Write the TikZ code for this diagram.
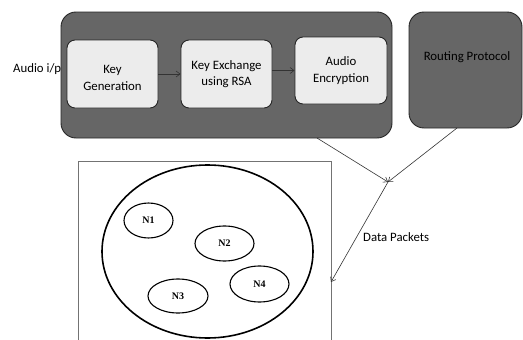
\documentclass[tikz,border=0pt]{standalone}
\usepackage{fontspec}
\setmainfont{Carlito}
\newfontfamily\nfont{Liberation Serif}
\usetikzlibrary{arrows.meta,shapes.geometric}
\definecolor{darkbox}{RGB}{102,102,102}
\definecolor{lightbox}{RGB}{236,236,236}
\tikzset{
  txt/.style={font=\fontsize{12.8}{16.5}\selectfont},
  outerbox/.style={draw=black!85, line width=0.9pt, fill=darkbox, rounded corners=15pt},
  innerbox/.style={draw=black!85, line width=0.9pt, fill=lightbox, rounded corners=8pt,
    minimum width=91pt, minimum height=68pt, align=center, inner sep=0pt, txt},
  nodeell/.style={draw=black, line width=1.1pt, ellipse, minimum width=60pt, minimum height=34pt,
    inner sep=0pt, font=\nfont\bfseries\fontsize{10}{12}\selectfont},
  flow/.style={draw=black!80, line width=0.6pt, -{Straight Barb[length=4pt,width=6pt]}}
}
\begin{document}
\begin{tikzpicture}[x=1pt,y=-1pt]
\useasboundingbox (0,0) rectangle (523,340);
% main processing box
\draw[outerbox] (61,12) rectangle (392,138);
\coordinate (mainbot) at (317,138);
% routing protocol box
\node[outerbox, minimum width=113pt, minimum height=116pt, inner sep=0pt] (route) at (465.5,70) {};
\node[txt] (routetxt) at (467,57) {Routing Protocol};
\coordinate (routebot) at (457,128);
% inner boxes
\node[innerbox] (keygen) at (112.5,74) {};
\node[txt, align=center, inner sep=0pt] (keygentxt) at (112.5,78) {Key\\Generation};
\node[innerbox] (keyex) at (226.5,74) {Key Exchange\\using RSA};
\node[innerbox, minimum width=92pt, minimum height=67pt] (enc) at (341,70.5) {Audio\\Encryption};
\draw[flow] (keygen.east) -- (keyex.west);
\draw[flow] (keyex.east |- enc.west) -- (enc.west);
% audio input label
\node[anchor=west, inner sep=0pt, txt] (audio) at (13,69) {Audio i/p};
% network rectangle
\draw[draw=black!55, line width=0.8pt] (331,345) -- (331,161) -- (78,161) -- (78,345);
\coordinate (netin) at (331,282);
% big circle
\node[draw=black, line width=1.6pt, ellipse, minimum width=211pt, minimum height=173pt, inner sep=0pt] (net) at (207.5,251.5) {};
\node[nodeell, minimum width=49pt, minimum height=35pt] (n1) at (148.5,220.5) {N1};
\node[nodeell, minimum width=59pt, minimum height=35pt] (n2) at (224.5,243.5) {N2};
\node[nodeell, minimum width=60pt, minimum height=34pt] (n3) at (178,296) {N3};
\node[nodeell, minimum width=59pt, minimum height=36pt] (n4) at (259.5,284) {N4};
% data packet connectors
\coordinate (junc) at (388,182);
\draw[flow] (mainbot) -- (junc);
\draw[flow] (routebot) -- (junc);
\draw[flow] (junc) -- (netin);
\node[anchor=west, inner sep=0pt, txt] (dp) at (363,237) {Data Packets};
\end{tikzpicture}
\end{document}
